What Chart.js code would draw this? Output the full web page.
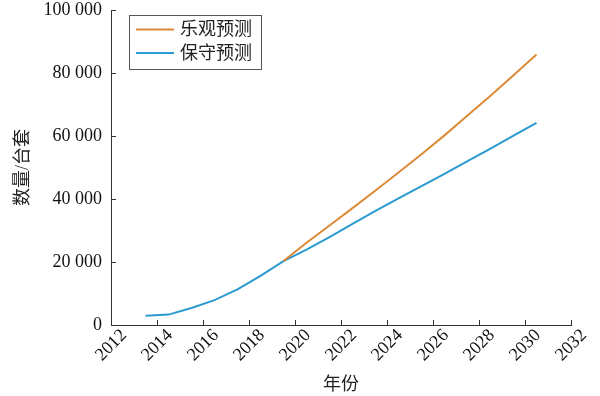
<!DOCTYPE html>
<html>
<head>
<meta charset="utf-8">
<script src="https://cdn.jsdelivr.net/npm/chart.js@4/dist/chart.umd.min.js"></script>
<style>
html,body{margin:0;padding:0;background:#fff;}
#wrap{width:600px;height:396px;}
</style>
</head>
<body>
<div id="wrap"><canvas id="c" width="600" height="396"></canvas></div>
<script>
// Data
const consYears = [2013.5, 2014.5, 2015.5, 2016.5, 2017.5, 2018.5, 2019.5, 2020.5, 2021.5, 2022.5, 2023.5, 2024.5, 2025.5, 2026.5, 2027.5, 2028.5, 2029.5, 2030.5];
const consValues = [2900, 3300, 5400, 7900, 11300, 15600, 20300, 23900, 27900, 32100, 36200, 40200, 44100, 48000, 52000, 56000, 60100, 64200];
const optYears = [2019.5, 2020.5, 2021.5, 2022.5, 2023.5, 2024.5, 2025.5, 2026.5, 2027.5, 2028.5, 2029.5, 2030.5];
const optValues = [20300, 26100, 31600, 37100, 42700, 48400, 54200, 60200, 66500, 72800, 79300, 85900];
const seriesNames = ['乐观预测', '保守预测'];
const xTicks = [2012, 2014, 2016, 2018, 2020, 2022, 2024, 2026, 2028, 2030, 2032];
const yTicks = [0, 20000, 40000, 60000, 80000, 100000];
const xTitle = '年份';
const yTitle = '数量/台套';

const FONT = '"Liberation Serif", "Noto Sans CJK SC", serif';
const AXIS = '#333333';

const toPts = (xs, ys) => xs.map((x, i) => ({x: x, y: ys[i]}));

const fmt = v => {
  const s = String(Math.round(v));
  return s.replace(/\B(?=(\d{3})+(?!\d))/g, ' ');
};

const innerTicks = {
  id: 'innerTicks',
  afterDatasetsDraw(chart) {
    const ctx = chart.ctx;
    const xs = chart.scales.x, ys = chart.scales.y;
    const area = chart.chartArea;
    ctx.save();
    ctx.strokeStyle = AXIS;
    ctx.lineWidth = 1;
    ctx.beginPath();
    xTicks.forEach(v => {
      const px = Math.round(xs.getPixelForValue(v)) + 0.5;
      ctx.moveTo(px, area.bottom);
      ctx.lineTo(px, area.bottom - 5);
    });
    yTicks.forEach(v => {
      const py = Math.round(ys.getPixelForValue(v)) + 0.5;
      ctx.moveTo(area.left, py);
      ctx.lineTo(area.left + 5, py);
    });
    ctx.stroke();
    ctx.restore();
  }
};

const boxLegend = {
  id: 'boxLegend',
  afterDraw(chart) {
    const ctx = chart.ctx;
    const ds = chart.data.datasets;
    const bx = 129.5, by = 15.5, bw = 132, bh = 54;
    ctx.save();
    ctx.fillStyle = '#ffffff';
    ctx.fillRect(bx, by, bw, bh);
    ctx.strokeStyle = '#555555';
    ctx.lineWidth = 1;
    ctx.strokeRect(bx, by, bw, bh);
    ctx.font = '18px ' + FONT;
    ctx.textBaseline = 'middle';
    ctx.textAlign = 'left';
    const rows = [29.5, 53];
    ds.forEach((d, i) => {
      const y = rows[i];
      ctx.strokeStyle = d.borderColor;
      ctx.lineWidth = 2;
      ctx.beginPath();
      ctx.moveTo(136, y);
      ctx.lineTo(174, y);
      ctx.stroke();
      ctx.fillStyle = '#222222';
      ctx.fillText(d.label, 180, y + 1);
    });
    ctx.restore();
  }
};

new Chart(document.getElementById('c'), {
  type: 'line',
  data: {
    datasets: [
      {label: seriesNames[0], data: toPts(optYears, optValues), borderColor: '#DC8A36', backgroundColor: '#DC8A36', borderWidth: 2, pointRadius: 0, tension: 0, fill: false},
      {label: seriesNames[1], data: toPts(consYears, consValues), borderColor: '#2A9AD0', backgroundColor: '#2A9AD0', borderWidth: 2, pointRadius: 0, tension: 0, fill: false}
    ]
  },
  options: {
    responsive: false,
    animation: false,
    devicePixelRatio: 1,
    layout: {padding: {left: 0, right: 29, top: 10, bottom: 0}},
    plugins: {legend: {display: false}, tooltip: {enabled: false}},
    scales: {
      x: {
        type: 'linear',
        min: 2012, max: 2032,
        afterBuildTicks: s => { s.ticks = xTicks.map(v => ({value: v})); },
        afterFit: s => { s.height = 71; s.paddingLeft = 0; s.paddingRight = 0; },
        grid: {display: false, drawTicks: false},
        border: {display: true, color: AXIS, width: 1},
        ticks: {
          autoSkip: false, maxRotation: 45, minRotation: 45, padding: 0, labelOffset: 13,
          color: '#111111', font: {family: FONT, size: 18},
          callback: v => String(v)
        },
        title: {display: true, text: xTitle, color: '#222222', font: {family: FONT, size: 18}, padding: {top: 0, bottom: 0}}
      },
      y: {
        type: 'linear',
        min: 0, max: 100000,
        afterBuildTicks: s => { s.ticks = yTicks.map(v => ({value: v})); },
        afterFit: s => { s.width = 111; s.paddingTop = 0; s.paddingBottom = 0; },
        grid: {display: false, drawTicks: false},
        border: {display: true, color: AXIS, width: 1},
        ticks: {
          padding: 9, color: '#111111', font: {family: FONT, size: 18},
          callback: v => fmt(v)
        },
        title: {display: true, text: yTitle, color: '#222222', font: {family: FONT, size: 18}, padding: {top: 12, bottom: 0}}
      }
    }
  },
  plugins: [innerTicks, boxLegend]
});
</script>
</body>
</html>
